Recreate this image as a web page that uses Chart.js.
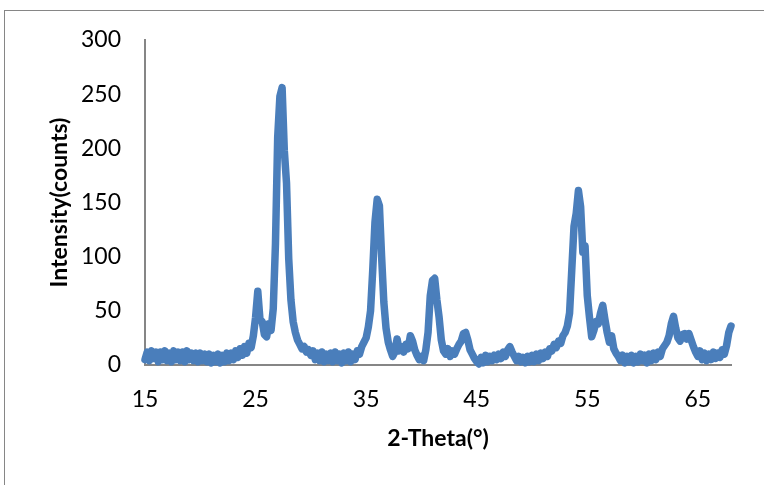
<!DOCTYPE html>
<html>
<head>
<meta charset="utf-8">
<title>XRD pattern</title>
<script src="https://cdn.jsdelivr.net/npm/chart.js@4/dist/chart.umd.min.js"></script>
<style>
    html, body { margin: 0; padding: 0; background: #ffffff; }
    #wrap { width: 764px; height: 485px; }
</style>
</head>
<body>
<div id="wrap"><canvas id="xrd" width="764" height="485"></canvas></div>
<script>
    'use strict';

    // 2-theta positions (degrees), 0.2 step
    var twoTheta = [
        15.0, 15.2, 15.4, 15.6, 15.8, 16.0, 16.2, 16.4, 16.6, 16.8,
        17.0, 17.2, 17.4, 17.6, 17.8, 18.0, 18.2, 18.4, 18.6, 18.8,
        19.0, 19.2, 19.4, 19.6, 19.8, 20.0, 20.2, 20.4, 20.6, 20.8,
        21.0, 21.2, 21.4, 21.6, 21.8, 22.0, 22.2, 22.4, 22.6, 22.8,
        23.0, 23.2, 23.4, 23.6, 23.8, 24.0, 24.2, 24.4, 24.6, 24.8,
        25.0, 25.2, 25.4, 25.6, 25.8, 26.0, 26.2, 26.4, 26.6, 26.8,
        27.0, 27.2, 27.4, 27.6, 27.8, 28.0, 28.2, 28.4, 28.6, 28.8,
        29.0, 29.2, 29.4, 29.6, 29.8, 30.0, 30.2, 30.4, 30.6, 30.8,
        31.0, 31.2, 31.4, 31.6, 31.8, 32.0, 32.2, 32.4, 32.6, 32.8,
        33.0, 33.2, 33.4, 33.6, 33.8, 34.0, 34.2, 34.4, 34.6, 34.8,
        35.0, 35.2, 35.4, 35.6, 35.8, 36.0, 36.2, 36.4, 36.6, 36.8,
        37.0, 37.2, 37.4, 37.6, 37.8, 38.0, 38.2, 38.4, 38.6, 38.8,
        39.0, 39.2, 39.4, 39.6, 39.8, 40.0, 40.2, 40.4, 40.6, 40.8,
        41.0, 41.2, 41.4, 41.6, 41.8, 42.0, 42.2, 42.4, 42.6, 42.8,
        43.0, 43.2, 43.4, 43.6, 43.8, 44.0, 44.2, 44.4, 44.6, 44.8,
        45.0, 45.2, 45.4, 45.6, 45.8, 46.0, 46.2, 46.4, 46.6, 46.8,
        47.0, 47.2, 47.4, 47.6, 47.8, 48.0, 48.2, 48.4, 48.6, 48.8,
        49.0, 49.2, 49.4, 49.6, 49.8, 50.0, 50.2, 50.4, 50.6, 50.8,
        51.0, 51.2, 51.4, 51.6, 51.8, 52.0, 52.2, 52.4, 52.6, 52.8,
        53.0, 53.2, 53.4, 53.6, 53.8, 54.0, 54.2, 54.4, 54.6, 54.8,
        55.0, 55.2, 55.4, 55.6, 55.8, 56.0, 56.2, 56.4, 56.6, 56.8,
        57.0, 57.2, 57.4, 57.6, 57.8, 58.0, 58.2, 58.4, 58.6, 58.8,
        59.0, 59.2, 59.4, 59.6, 59.8, 60.0, 60.2, 60.4, 60.6, 60.8,
        61.0, 61.2, 61.4, 61.6, 61.8, 62.0, 62.2, 62.4, 62.6, 62.8,
        63.0, 63.2, 63.4, 63.6, 63.8, 64.0, 64.2, 64.4, 64.6, 64.8,
        65.0, 65.2, 65.4, 65.6, 65.8, 66.0, 66.2, 66.4, 66.6, 66.8,
        67.0, 67.2, 67.4, 67.6, 67.8, 68.0
    ];

    // Intensity (counts)
    var counts = [
        5, 12, 4, 13, 6,      12, 3, 12, 5, 13,
        4, 11, 3, 13, 5,      12, 4, 12, 3, 13,
        5, 11, 4, 11, 3,      11, 4, 10, 3, 10,
        2, 9, 3, 10, 2,       9, 3, 11, 4, 11,
        5, 13, 7, 15, 9,      17, 11, 20, 16, 27,
        44, 68, 42, 40, 28,   26, 38, 32, 52, 112,
        210, 248, 256, 198, 168,  98, 60, 40, 30, 23,
        19, 15, 17, 12, 14,   9, 13, 5, 11, 4,
        12, 3, 10, 4, 11,     3, 12, 4, 10, 2,
        11, 4, 12, 3, 10,     5, 13, 10, 17, 21,
        25, 35, 50, 88, 132,  153, 147, 100, 58, 34,
        21, 14, 8, 12, 24,    13, 17, 12, 19, 15,
        27, 22, 14, 9, 5,     8, 4, 14, 30, 64,
        78, 80, 60, 44, 23,   13, 10, 15, 8, 13,
        10, 15, 19, 22, 29,   30, 23, 14, 10, 6,
        3, 1, 7, 2, 9,        3, 8, 4, 9, 5,
        10, 6, 12, 8, 14,     17, 12, 8, 4, 8,
        3, 7, 2, 8, 3,        9, 3, 10, 4, 11,
        6, 12, 8, 15, 13,     19, 16, 22, 20, 27,
        30, 36, 48, 88, 128,  140, 161, 146, 104, 110,
        64, 44, 26, 32, 40,   38, 48, 55, 42, 30,
        21, 27, 15, 11, 8,    4, 9, 2, 8, 3,
        9, 2, 8, 3, 10,       4, 9, 2, 10, 4,
        11, 5, 12, 8, 15,     18, 21, 27, 38, 45,
        34, 25, 22, 28, 29,   24, 29, 23, 17, 12,
        8, 13, 5, 11, 4,      10, 5, 12, 6, 11,
        7, 14, 10, 18, 30,    36
    ];

    var xTicks = [15, 25, 35, 45, 55, 65];
    var yTicks = [0, 50, 100, 150, 200, 250, 300];

    var axisColor = '#868686';
    var lineColor = '#4a7ebb';
    var fontFace = 'Lato, "Open Sans", sans-serif';

    /**
     * Grey frame round the whole chart, like the Excel chart area border
     */
    var framePlugin = {
        id: 'frame',
        beforeDraw: function (chart) {
            var ctx = chart.ctx;
            ctx.save();
            ctx.strokeStyle = axisColor;
            ctx.lineWidth = 1;
            ctx.strokeRect(4.5, 10.5, 900, 600);
            ctx.restore();
        }
    };

    var points = twoTheta.map(function (t, i) {
        return {x: t, y: counts[i]};
    });

    var config = {
        type: 'line',
        data: {
            datasets: [{
                label: 'Intensity',
                data: points,
                borderColor: lineColor,
                borderWidth: 7.5,
                borderJoinStyle: 'round',
                borderCapStyle: 'round',
                pointRadius: 0,
                tension: 0,
                fill: false,
                clip: false
            }]
        },
        options: {
            responsive: false,
            animation: false,
            layout: {padding: {left: 0, top: 40, right: 33, bottom: 0}},
            plugins: {
                legend: {display: false},
                tooltip: {enabled: false}
            },
            scales: {
                x: {
                    type: 'linear',
                    min: 15,
                    max: 68,
                    afterBuildTicks: function (scale) {
                        scale.ticks = xTicks.map(function (v) { return {value: v}; });
                    },
                    afterFit: function (scale) { scale.height = 120; },
                    grid: {display: false, drawTicks: false},
                    border: {display: true, color: axisColor, width: 2},
                    ticks: {
                        padding: 21,
                        color: '#000000',
                        font: {family: fontFace, size: 23}
                    },
                    title: {
                        display: true,
                        text: '2-Theta(°)',
                        color: '#000000',
                        padding: {top: 0, bottom: 33},
                        font: {family: fontFace, size: 23, weight: 'bold'}
                    }
                },
                y: {
                    min: 0,
                    max: 300,
                    afterBuildTicks: function (scale) {
                        scale.ticks = yTicks.map(function (v) { return {value: v}; });
                    },
                    afterFit: function (scale) { scale.width = 145; },
                    grid: {display: false, drawTicks: false},
                    border: {display: true, color: axisColor, width: 2},
                    ticks: {
                        padding: 24,
                        color: '#000000',
                        font: {family: fontFace, size: 23}
                    },
                    title: {
                        display: true,
                        text: 'Intensity(counts)',
                        color: '#000000',
                        padding: {top: 46, bottom: 0},
                        font: {family: fontFace, size: 23, weight: 'bold'}
                    }
                }
            }
        },
        plugins: [framePlugin]
    };

    var ctx = document.getElementById('xrd').getContext('2d');
    new Chart(ctx, config);
</script>
</body>
</html>
